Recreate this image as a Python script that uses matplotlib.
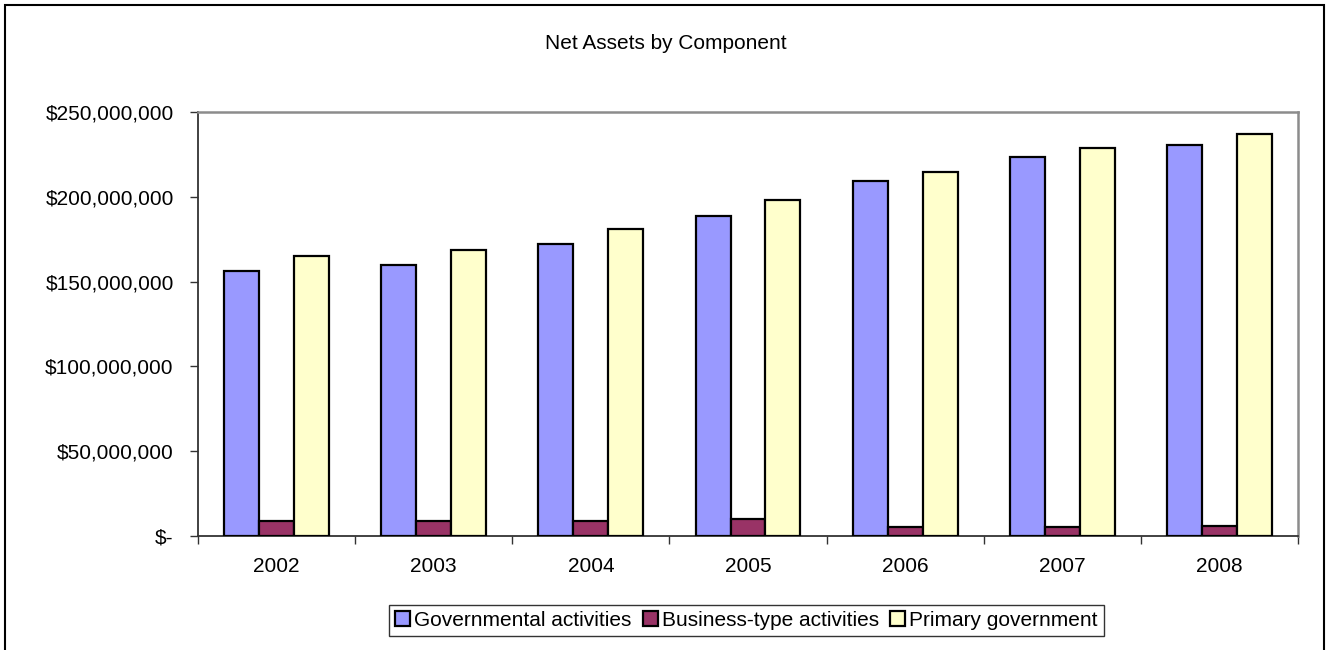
import matplotlib
matplotlib.use("Agg")
import matplotlib.pyplot as plt
from matplotlib.patches import Rectangle
from matplotlib.ticker import FuncFormatter, FixedLocator
import numpy as np

years = ["2002", "2003", "2004", "2005", "2006", "2007", "2008"]
governmental = [156.4e6, 159.6e6, 172.2e6, 188.5e6, 209.6e6, 223.3e6, 230.8e6]
business_type = [8.8e6, 8.9e6, 8.8e6, 9.8e6, 5.3e6, 5.5e6, 6.1e6]
primary = [165.2e6, 168.5e6, 181.0e6, 198.3e6, 214.9e6, 228.8e6, 236.9e6]
series_names = ["Governmental activities", "Business-type activities", "Primary government"]
series_colors = ["#9999FF", "#993366", "#FFFFCC"]
y_ticks = [0, 50e6, 100e6, 150e6, 200e6, 250e6]

plt.rcParams["font.family"] = ["Liberation Sans", "DejaVu Sans"]
FS = 15

fig = plt.figure(figsize=(13.28, 6.5), dpi=100)
ax = fig.add_axes([198 / 1328, 114 / 650, 1100 / 1328, 424 / 650])

x = np.arange(len(years))
width = 1 / 4.5
for i, (vals, name, col) in enumerate(zip([governmental, business_type, primary], series_names, series_colors)):
    ax.bar(x + (i - 1) * width, vals, width, color=col, edgecolor="black",
           linewidth=1.6, label=name, zorder=3)

ax.set_xlim(-0.5, len(years) - 0.5)
ax.set_ylim(0, 250e6)

ax.yaxis.set_major_locator(FixedLocator(y_ticks))
ax.yaxis.set_major_formatter(FuncFormatter(lambda v, p: "$-" if v == 0 else f"${v:,.0f}"))
ax.set_xticks(x)
ax.set_xticklabels(years)
ax.set_xticks(np.arange(-0.5, len(years)), minor=True)
ax.tick_params(axis="x", which="major", length=0, pad=15, labelsize=FS)
ax.tick_params(axis="x", which="minor", length=5.5, width=1, color="#333333", direction="out")
ax.tick_params(axis="y", length=5.5, width=1, color="#333333", direction="out", pad=12, labelsize=FS)

for side in ["top", "right"]:
    ax.spines[side].set_color("#8c8c8c")
    ax.spines[side].set_linewidth(1.8)
for side in ["left", "bottom"]:
    ax.spines[side].set_color("#333333")
    ax.spines[side].set_linewidth(1.3)

fig.text(666 / 1328, (650 - 49) / 650, "Net Assets by Component", ha="center", va="baseline", fontsize=FS)

leg = fig.legend(loc="center", bbox_to_anchor=(746.5 / 1328, (650 - 620.5) / 650), ncol=3,
                 frameon=True, fancybox=False, edgecolor="black", fontsize=FS,
                 handlelength=0.7, handleheight=0.7, handletextpad=0.2, columnspacing=0.55,
                 borderpad=0.3, borderaxespad=0)
leg.get_frame().set_linewidth(1.0)

fig.patches.append(Rectangle((5 / 1328, -0.01), 1319 / 1328, (650 - 5) / 650 + 0.01,
                             transform=fig.transFigure, fill=False, edgecolor="black",
                             linewidth=1.5, zorder=10))

fig.savefig("out.png", dpi=100)
